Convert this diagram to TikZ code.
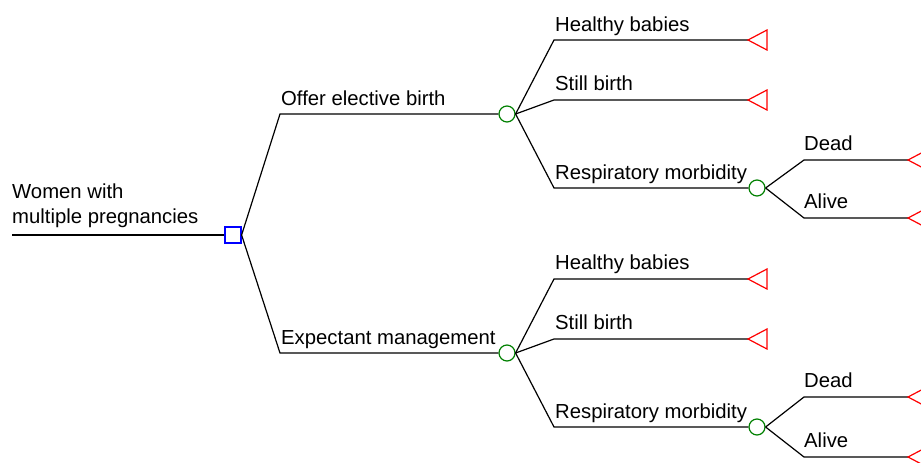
\documentclass[tikz,border=0pt]{standalone}
\usepackage{fontspec}
\setmainfont{Liberation Sans}
\begin{document}
\begin{tikzpicture}[x=1pt,y=-1pt,
  branch/.style={draw=black,line width=1.2pt},
  decision/.style={draw=blue,rectangle,minimum size=16pt,inner sep=0pt,line width=1.2pt},
  chance/.style={draw=green!50!black,circle,minimum size=16pt,inner sep=0pt,line width=1.2pt},
  term/.style={draw=red,line width=1.2pt,line join=miter},
  lbl/.style={anchor=base west,inner sep=0pt,font=\fontsize{20.3}{25}\selectfont}]
\useasboundingbox (0,0) rectangle (921,463);
% root
\coordinate (r0) at (12,235);
\node[decision] (d) at (233,235) {};
\node[anchor=south west,inner sep=0pt,align=left,font=\fontsize{20.3}{25}\selectfont] (rt) at (12,228) {Women with\\multiple pregnancies};
\draw[branch] (r0) -- (d.west);
% upper arm
\coordinate (a1) at (280,114);
\node[chance] (c1) at (507,114) {};
\draw[branch] (d.east) -- (a1) -- (c1.west);
\node[lbl] (la1) at (281,105) {Offer elective birth};
% lower arm
\coordinate (a2) at (280,353);
\node[chance] (c2) at (507,353) {};
\draw[branch] (d.east) -- (a2) -- (c2.west);
\node[lbl] (la2) at (281,344) {Expectant management};
% upper outcomes
\coordinate (b11) at (554,40);
\coordinate (t11) at (748,40);
\coordinate (b12) at (554,100);
\coordinate (t12) at (748,100);
\coordinate (b13) at (554,188);
\node[chance] (c13) at (757,188) {};
\draw[branch] (c1.east) -- (b11) -- (t11);
\draw[branch] (c1.east) -- (b12) -- (t12);
\draw[branch] (c1.east) -- (b13) -- (c13.west);
\draw[term] (t11) -- ++(19,-10) -- ++(0,20) -- cycle;
\draw[term] (t12) -- ++(19,-10) -- ++(0,20) -- cycle;
\node[lbl] at (555,31) {Healthy babies};
\node[lbl] at (555,90) {Still birth};
\node[lbl] at (555,179) {Respiratory morbidity};
\coordinate (e11) at (804,160);
\coordinate (u11) at (908,160);
\coordinate (e12) at (804,218);
\coordinate (u12) at (908,218);
\draw[branch] (c13.east) -- (e11) -- (u11);
\draw[branch] (c13.east) -- (e12) -- (u12);
\draw[term] (u11) -- ++(19,-10) -- ++(0,20) -- cycle;
\draw[term] (u12) -- ++(19,-10) -- ++(0,20) -- cycle;
\node[lbl] at (804,150) {Dead};
\node[lbl] at (804,208) {Alive};
% lower outcomes
\coordinate (b21) at (554,279);
\coordinate (t21) at (748,279);
\coordinate (b22) at (554,339);
\coordinate (t22) at (748,339);
\coordinate (b23) at (554,427);
\node[chance] (c23) at (757,427) {};
\draw[branch] (c2.east) -- (b21) -- (t21);
\draw[branch] (c2.east) -- (b22) -- (t22);
\draw[branch] (c2.east) -- (b23) -- (c23.west);
\draw[term] (t21) -- ++(19,-10) -- ++(0,20) -- cycle;
\draw[term] (t22) -- ++(19,-10) -- ++(0,20) -- cycle;
\node[lbl] at (555,269) {Healthy babies};
\node[lbl] at (555,329) {Still birth};
\node[lbl] at (555,418) {Respiratory morbidity};
\coordinate (e21) at (804,397);
\coordinate (u21) at (908,397);
\coordinate (e22) at (804,457);
\coordinate (u22) at (908,457);
\draw[branch] (c23.east) -- (e21) -- (u21);
\draw[branch] (c23.east) -- (e22) -- (u22);
\draw[term] (u21) -- ++(19,-10) -- ++(0,20) -- cycle;
\draw[term] (u22) -- ++(19,-10) -- ++(0,20) -- cycle;
\node[lbl] at (804,387) {Dead};
\node[lbl] at (804,447) {Alive};
\end{tikzpicture}
\end{document}
